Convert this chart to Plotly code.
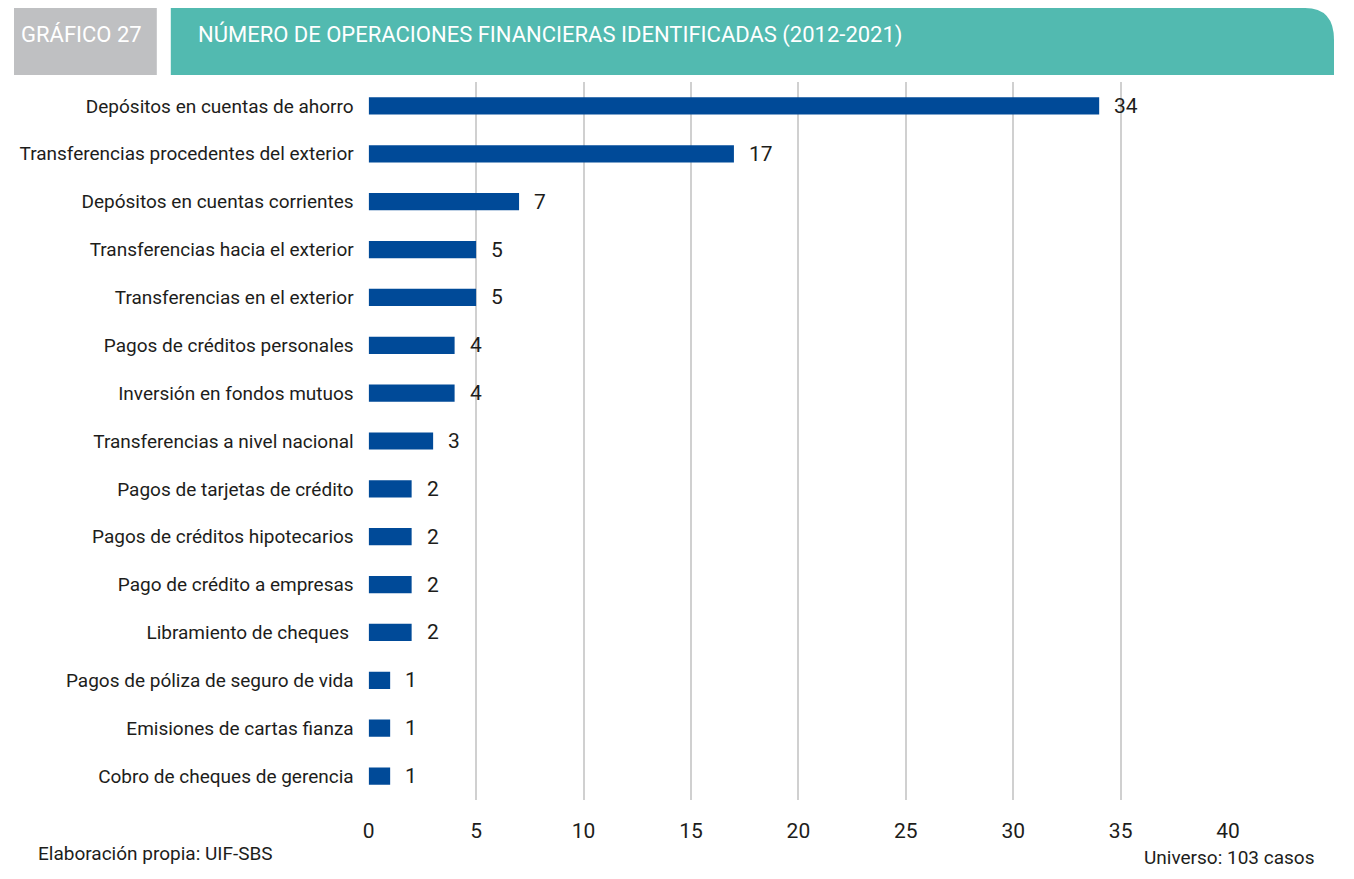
import plotly.graph_objects as go

categorias = [
    "Depósitos en cuentas de ahorro",
    "Transferencias procedentes del exterior",
    "Depósitos en cuentas corrientes",
    "Transferencias hacia el exterior",
    "Transferencias en el exterior",
    "Pagos de créditos personales",
    "Inversión en fondos mutuos",
    "Transferencias a nivel nacional",
    "Pagos de tarjetas de crédito",
    "Pagos de créditos hipotecarios",
    "Pago de crédito a empresas",
    "Libramiento de cheques ",
    "Pagos de póliza de seguro de vida",
    "Emisiones de cartas fianza",
    "Cobro de cheques de gerencia",
]
operaciones = [34, 17, 7, 5, 5, 4, 4, 3, 2, 2, 2, 2, 1, 1, 1]
ticks_x = [0, 5, 10, 15, 20, 25, 30, 35, 40]

# la página deja 8 px de margen alrededor de la figura
W, H = 1338, 863
OFF = 8
FONT = "Roboto, sans-serif"
TXT = "#1d1d1b"


def px(x):
    # posición horizontal en píxeles de la imagen -> papel
    xp = (x - 6.2) / 0.9872 - OFF
    return min(max(xp / W, 0), 1)


def py(y):
    return min(max(1 - (y - OFF) / H, 0), 1)


fig = go.Figure()
fig.add_trace(go.Bar(
    x=operaciones, y=categorias, orientation="h",
    marker=dict(color="#004a98", line=dict(width=0)),
    width=0.36, hoverinfo="x+y",
))

for c, v in zip(categorias, operaciones):
    fig.add_annotation(x=v, y=c, text=str(v), showarrow=False,
                       xanchor="left", xshift=13,
                       font=dict(size=21, color=TXT, family=FONT))

# cabecera
fig.add_shape(type="rect", xref="paper", yref="paper",
              x0=px(7), x1=px(157), y0=py(75), y1=py(0),
              fillcolor="#bfc0c2", line=dict(width=0), layer="below")
path = (f"M {px(171)},{py(0)} L {px(1306)},{py(0)} "
        f"Q {px(1354)},{py(0)} {px(1354)},{py(40)} "
        f"L {px(1354)},{py(75)} L {px(171)},{py(75)} Z")
fig.add_shape(type="path", xref="paper", yref="paper", path=path,
              fillcolor="#52bab0", line=dict(width=0), layer="below")
fig.add_annotation(xref="paper", yref="paper", x=px(82), y=py(34),
                   xanchor="center", yanchor="middle",
                   text="GRÁFICO 27", showarrow=False,
                   font=dict(size=22, color="white", family=FONT))
fig.add_annotation(xref="paper", yref="paper", x=px(196), y=py(34),
                   xanchor="left", yanchor="middle",
                   text="NÚMERO DE OPERACIONES FINANCIERAS IDENTIFICADAS (2012-2021)",
                   showarrow=False,
                   font=dict(size=22, color="white", family=FONT))

# pie
fig.add_annotation(xref="paper", yref="paper", x=px(36), y=py(867),
                   xanchor="left", yanchor="bottom",
                   text="Elaboración propia: UIF-SBS",
                   showarrow=False, font=dict(size=19, color=TXT, family=FONT))
fig.add_annotation(xref="paper", yref="paper", x=px(1317), y=py(871),
                   xanchor="right", yanchor="bottom",
                   text="Universo: 103 casos",
                   showarrow=False, font=dict(size=19, color=TXT, family=FONT))

fig.update_layout(
    width=W, height=H,
    margin=dict(l=0, r=0, t=0, b=0),
    paper_bgcolor="white", plot_bgcolor="white",
    showlegend=False,
    font=dict(family=FONT, size=19, color=TXT),
    xaxis=dict(
        domain=[px(369), px(1229)], range=[0, 40],
        tickvals=ticks_x, showgrid=True, gridcolor="#d0d0d0", gridwidth=1.5,
        zeroline=False, showline=False, ticks="",
        ticklabelstandoff=16, tickfont=dict(size=21),
    ),
    yaxis=dict(
        domain=[py(800), py(82)], autorange="reversed",
        showgrid=False, zeroline=False, showline=False, ticks="",
        ticklabelstandoff=14, tickfont=dict(size=19),
    ),
    bargap=0.64,
)

fig.write_html("out.html")
